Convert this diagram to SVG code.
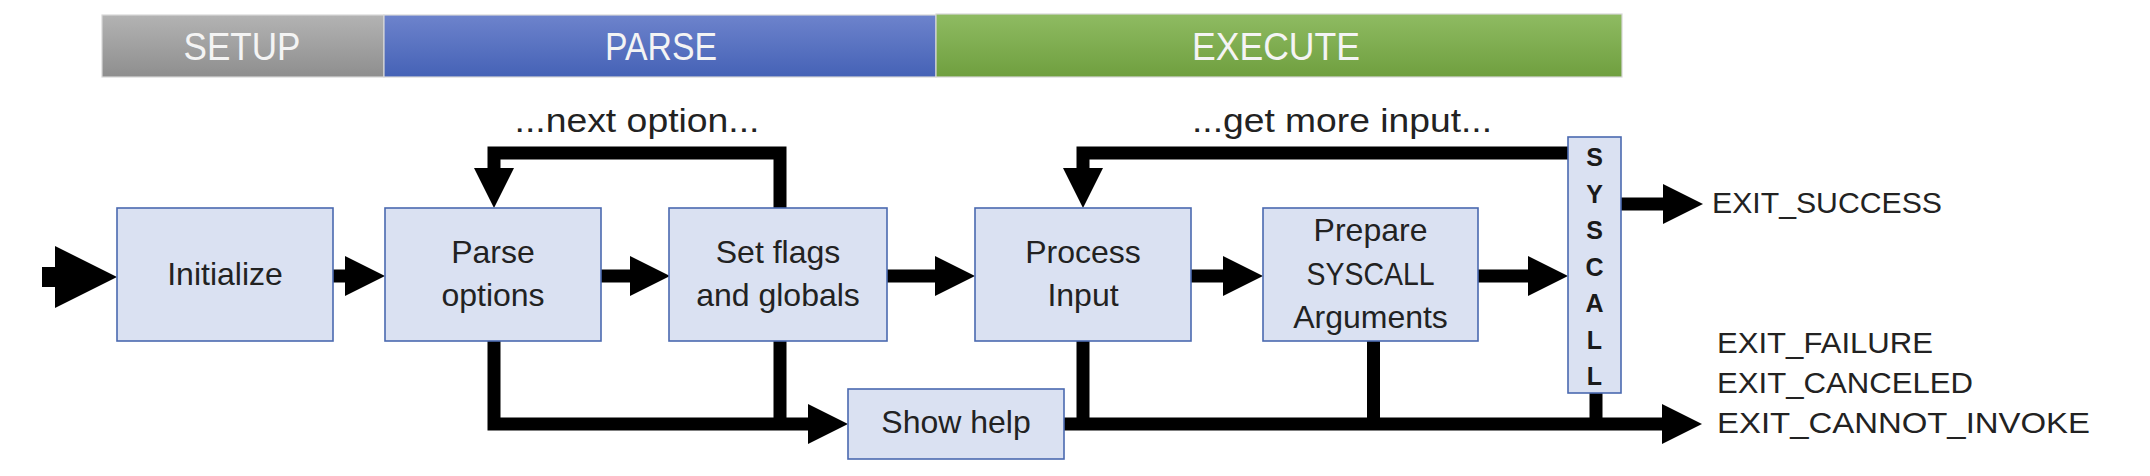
<svg xmlns="http://www.w3.org/2000/svg" width="2150" height="476" viewBox="0 0 2150 476">
<defs>
<style>
.box{fill:#dae1f2;stroke:#4a69b0;stroke-width:1.6}
.t{font-family:"Liberation Sans",Arial,sans-serif;font-size:32px;fill:#222222;text-anchor:middle}
.hdr{font-size:39px;fill:#f4f4f4}
.lbl{font-size:30px;text-anchor:start}
.loop{font-size:33px}
.sys{font-size:25px;font-weight:bold;fill:#1a1a1a}
.conn{fill:none;stroke:#000;stroke-width:13;stroke-linejoin:miter}
.bar{stroke:#d8d8d8;stroke-width:1.2}
</style>
<linearGradient id="gGray" x1="0" y1="0" x2="0" y2="1"><stop offset="0" stop-color="#b3b3b3"/><stop offset="1" stop-color="#8e8e8e"/></linearGradient>
<linearGradient id="gBlue" x1="0" y1="0" x2="0" y2="1"><stop offset="0" stop-color="#6d83cc"/><stop offset="1" stop-color="#4562b6"/></linearGradient>
<linearGradient id="gGreen" x1="0" y1="0" x2="0" y2="1"><stop offset="0" stop-color="#8fbb62"/><stop offset="1" stop-color="#6f9f3f"/></linearGradient>
<marker id="ah" markerUnits="userSpaceOnUse" viewBox="0 0 40 40" markerWidth="40" markerHeight="40" refX="0" refY="20" orient="auto"><path d="M0,0 L40,20 L0,40 Z" fill="#000"/></marker>
<marker id="ahBig" markerUnits="userSpaceOnUse" viewBox="0 0 62 62" markerWidth="62" markerHeight="62" refX="0" refY="31" orient="auto"><path d="M0,0 L62,31 L0,62 Z" fill="#000"/></marker>
</defs>
<rect width="2150" height="476" fill="#ffffff"/>

<g id="phases">
<rect class="bar" x="102" y="15" width="282" height="62" fill="url(#gGray)"/>
<rect class="bar" x="384" y="15" width="552" height="62" fill="url(#gBlue)"/>
<rect class="bar" x="936" y="14" width="686" height="63" fill="url(#gGreen)"/>
<text class="t hdr" x="242" y="60" textLength="117" lengthAdjust="spacingAndGlyphs">SETUP</text>
<text class="t hdr" x="661" y="60" textLength="112" lengthAdjust="spacingAndGlyphs">PARSE</text>
<text class="t hdr" x="1276" y="60" textLength="168" lengthAdjust="spacingAndGlyphs">EXECUTE</text>
</g>

<g id="connectors">
<path class="conn" d="M42,277 H55" style="stroke-width:20" marker-end="url(#ahBig)"/>
<path class="conn" d="M333,276 H345" marker-end="url(#ah)"/>
<path class="conn" d="M601,276 H630" marker-end="url(#ah)"/>
<path class="conn" d="M887,276 H935" marker-end="url(#ah)"/>
<path class="conn" d="M1191,276 H1223" marker-end="url(#ah)"/>
<path class="conn" d="M1478,276 H1528" marker-end="url(#ah)"/>
<path class="conn" d="M780,208 V153 H494 V168" marker-end="url(#ah)"/>
<path class="conn" d="M1568,153 H1083 V168" marker-end="url(#ah)"/>
<path class="conn" d="M494,341 V424 H808" marker-end="url(#ah)"/>
<path class="conn" d="M780,341 V430"/>
<path class="conn" d="M1064,424 H1662" marker-end="url(#ah)"/>
<path class="conn" d="M1083,341 V430"/>
<path class="conn" d="M1373.5,341 V430"/>
<path class="conn" d="M1596,393 V430"/>
<path class="conn" d="M1621,204 H1663" marker-end="url(#ah)"/>
</g>

<g id="initialize">
<rect class="box" x="117" y="208" width="216" height="133"/>
<text class="t" x="225" y="285">Initialize</text>
</g>
<g id="parse-options">
<rect class="box" x="385" y="208" width="216" height="133"/>
<text class="t" x="493" y="263">Parse</text>
<text class="t" x="493" y="306">options</text>
</g>
<g id="set-flags">
<rect class="box" x="669" y="208" width="218" height="133"/>
<text class="t" x="778" y="263">Set flags</text>
<text class="t" x="778" y="306">and globals</text>
</g>
<g id="process-input">
<rect class="box" x="975" y="208" width="216" height="133"/>
<text class="t" x="1083" y="263">Process</text>
<text class="t" x="1083" y="306">Input</text>
</g>
<g id="prepare-syscall">
<rect class="box" x="1263" y="208" width="215" height="133"/>
<text class="t" x="1370.5" y="241">Prepare</text>
<text class="t" x="1370.5" y="285" textLength="128" lengthAdjust="spacingAndGlyphs">SYSCALL</text>
<text class="t" x="1370.5" y="328">Arguments</text>
</g>
<g id="syscall">
<rect class="box" x="1568" y="137" width="53" height="256"/>
<text class="t sys" x="1594.5" y="166">S</text>
<text class="t sys" x="1594.5" y="202.5">Y</text>
<text class="t sys" x="1594.5" y="239">S</text>
<text class="t sys" x="1594.5" y="275.5">C</text>
<text class="t sys" x="1594.5" y="312">A</text>
<text class="t sys" x="1594.5" y="348.5">L</text>
<text class="t sys" x="1594.5" y="385">L</text>
</g>
<g id="show-help">
<rect class="box" x="848" y="389" width="216" height="70"/>
<text class="t" x="956" y="433">Show help</text>
</g>

<g id="labels">
<text class="t loop" x="637" y="132" textLength="245" lengthAdjust="spacingAndGlyphs">...next option...</text>
<text class="t loop" x="1342" y="132" textLength="300" lengthAdjust="spacingAndGlyphs">...get more input...</text>
<text class="t lbl" x="1712" y="213" textLength="230" lengthAdjust="spacingAndGlyphs">EXIT_SUCCESS</text>
<text class="t lbl" x="1717" y="353" textLength="216" lengthAdjust="spacingAndGlyphs">EXIT_FAILURE</text>
<text class="t lbl" x="1717" y="393" textLength="256" lengthAdjust="spacingAndGlyphs">EXIT_CANCELED</text>
<text class="t lbl" x="1717" y="433" textLength="373" lengthAdjust="spacingAndGlyphs">EXIT_CANNOT_INVOKE</text>
</g>
</svg>
